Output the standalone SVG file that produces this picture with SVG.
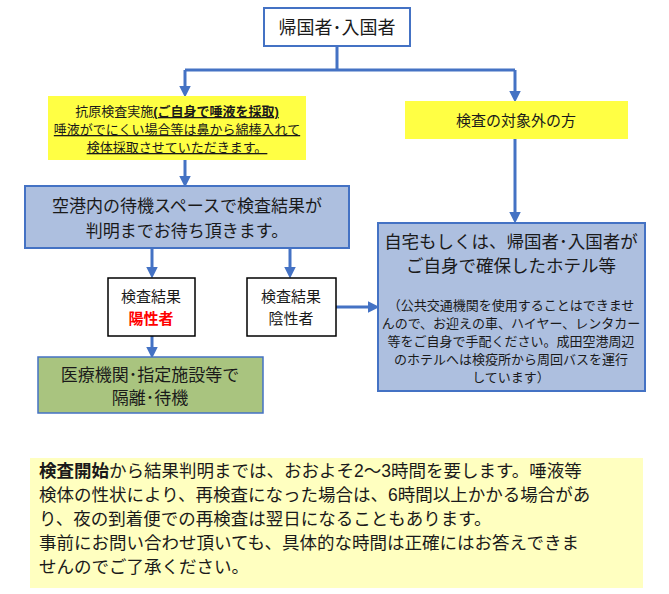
<svg xmlns="http://www.w3.org/2000/svg" width="669" height="594" viewBox="0 0 669 594">
<style>
text{font-family:"Liberation Sans","Noto Sans CJK JP",sans-serif;fill:#1a1a1a}
.c{text-anchor:middle}
.blue{fill:#adbfdf;stroke:#4472c4;stroke-width:2}
.yel{fill:#ffff44}
.wb{fill:#fff;stroke:#000;stroke-width:1.5}
.ln{stroke:#4472c4;stroke-width:3;fill:none}
</style>
<defs><marker id="a" markerWidth="4" markerHeight="4" refX="2.5" refY="2" orient="auto"><path d="M0,0L4,2L0,4z" fill="#4472c4"/></marker></defs>
<rect width="669" height="594" fill="#fff"/>
<g id="connectors">
<path class="ln" d="M337,46V70M185,70H515"/>
<path class="ln" d="M185,70V93" marker-end="url(#a)"/>
<path class="ln" d="M515,70V98" marker-end="url(#a)"/>
<path class="ln" d="M185,160V183" marker-end="url(#a)"/>
<path class="ln" d="M515,139V219" marker-end="url(#a)"/>
<path class="ln" d="M152,248V274" marker-end="url(#a)"/>
<path class="ln" d="M290,248V274" marker-end="url(#a)"/>
<path class="ln" d="M152,336V354" marker-end="url(#a)"/>
<path class="ln" d="M336,307H375" marker-end="url(#a)"/>
</g>
<g id="top"><rect x="264" y="8" width="146" height="38" fill="#fff" stroke="#4472c4" stroke-width="2"/><text class="c" x="337" y="34" font-size="18">帰国者･入国者</text></g>
<g id="test"><rect class="yel" x="48" y="96" width="258" height="64"/>
<text class="c" x="177" y="116" font-size="13">抗原検査実施<tspan font-weight="bold" text-decoration="underline">(ご自身で唾液を採取)</tspan></text>
<text class="c" x="177" y="134" font-size="13" text-decoration="underline">唾液がでにくい場合等は鼻から綿棒入れて</text>
<text class="c" x="177" y="152" font-size="13" text-decoration="underline">検体採取させていただきます。</text></g>
<g id="exempt"><rect class="yel" x="405" y="101" width="223" height="38"/><text class="c" x="516" y="126" font-size="15">検査の対象外の方</text></g>
<g id="wait"><rect class="blue" x="25" y="186" width="324" height="62"/>
<text class="c" x="187" y="212" font-size="17">空港内の待機スペースで検査結果が</text>
<text class="c" x="187" y="237" font-size="17">判明までお待ち頂きます。</text></g>
<g id="pos"><rect class="wb" x="108" y="278" width="87" height="58"/>
<text class="c" x="151" y="302" font-size="15">検査結果</text><text class="c" x="151" y="324" font-size="15" font-weight="bold" style="fill:#ff0000">陽性者</text></g>
<g id="neg"><rect class="wb" x="247" y="278" width="89" height="58"/>
<text class="c" x="291" y="302" font-size="15">検査結果</text><text class="c" x="291" y="324" font-size="15">陰性者</text></g>
<g id="hosp"><rect x="38" y="357" width="225" height="56" fill="#a9c47f" stroke="#4472c4" stroke-width="1.5"/>
<text class="c" x="150" y="381" font-size="17">医療機関･指定施設等で</text><text class="c" x="150" y="404" font-size="17">隔離･待機</text></g>
<g id="home"><rect class="blue" x="378" y="223" width="267" height="168"/>
<text class="c" x="511" y="248" font-size="17.5">自宅もしくは、帰国者･入国者が</text>
<text class="c" x="511" y="272" font-size="17.5">ご自身で確保したホテル等</text>
<g font-size="13"><text class="c" x="511" y="310">（公共交通機関を使用することはできませ</text>
<text class="c" x="511" y="328">んので、お迎えの車、ハイヤー、レンタカー</text>
<text class="c" x="511" y="346">等をご自身で手配ください。成田空港周辺</text>
<text class="c" x="511" y="364">のホテルへは検疫所から周回バスを運行</text>
<text class="c" x="511" y="382">しています）</text></g></g>
<g id="note"><rect x="30" y="458" width="613" height="130" fill="#ffffc0"/>
<g font-size="17.5"><text x="39" y="477"><tspan font-weight="bold">検査開始</tspan>から結果判明までは、おおよそ2～3時間を要します。唾液等</text>
<text x="39" y="501">検体の性状により、再検査になった場合は、6時間以上かかる場合があ</text>
<text x="39" y="525">り、夜の到着便での再検査は翌日になることもあります。</text>
<text x="39" y="549">事前にお問い合わせ頂いても、具体的な時間は正確にはお答えできま</text>
<text x="39" y="573">せんのでご了承ください。</text></g></g>
</svg>
